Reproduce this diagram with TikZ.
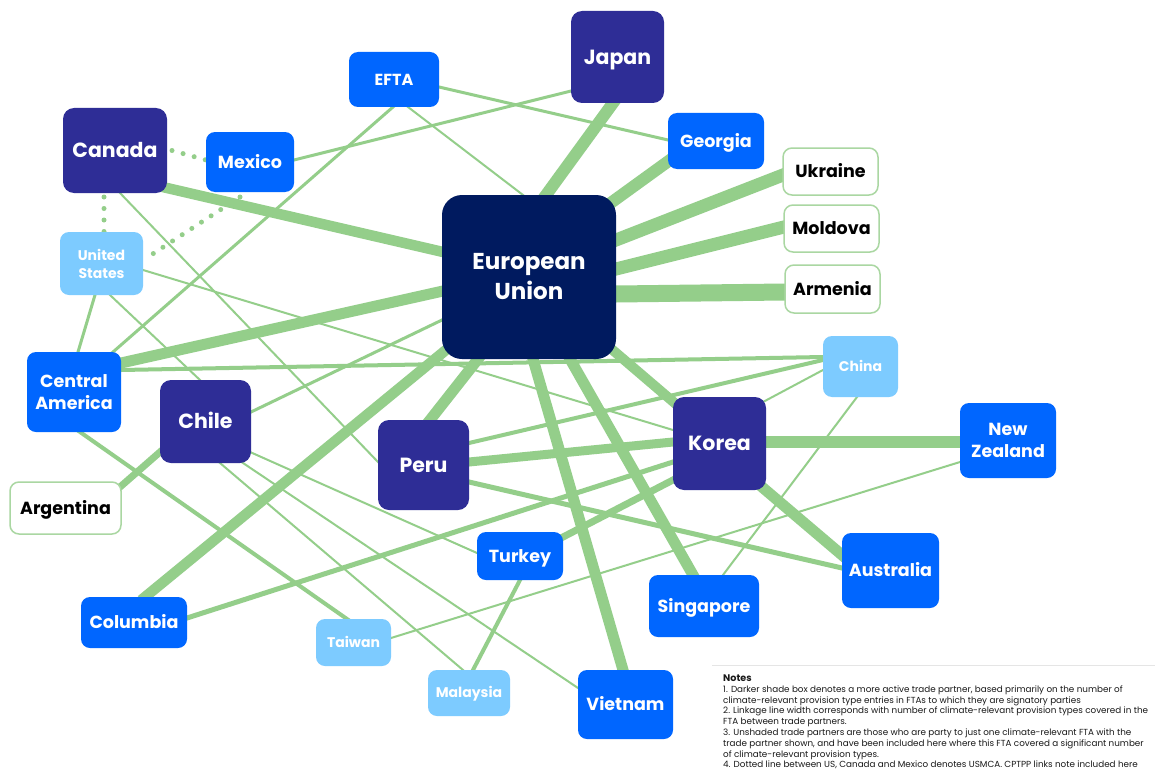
\documentclass[tikz,border=0pt]{standalone}
\usepackage{fontspec}
\setmainfont{Poppins}
\usetikzlibrary{backgrounds}
\definecolor{navy}{RGB}{0,26,95}
\definecolor{purp}{RGB}{46,45,150}
\definecolor{bblue}{RGB}{0,102,255}
\definecolor{lblue}{RGB}{125,203,255}
\definecolor{lk}{RGB}{148,206,138}
\definecolor{lkb}{RGB}{170,215,162}
\newcommand\FzEU{\fontsize{23}{30}\selectfont\bfseries}
\newcommand\FzBig{\fontsize{20.5}{24}\selectfont\bfseries}
\newcommand\FzMid{\fontsize{17.5}{21.5}\selectfont\bfseries}
\newcommand\FzEF{\fontsize{16}{20}\selectfont\bfseries}
\newcommand\FzSm{\fontsize{14}{18}\selectfont\bfseries}
\newcommand\FzNote{\fontsize{8.8}{10.8}\selectfont}
\tikzset{
  cb/.style={rectangle, rounded corners=9pt, inner sep=0pt, align=center, text=white},
  tB/.style={font=\FzBig, text height=14.4pt, text depth=0pt},
  tM/.style={font=\FzMid, text height=12.3pt, text depth=0pt},
  tE/.style={font=\FzEF, text height=11.2pt, text depth=0pt},
  tS/.style={font=\FzSm, text height=9.8pt, text depth=0pt},
  top/.style={cb, fill=navy, rounded corners=20pt},
  dk/.style={cb, fill=purp, rounded corners=11pt},
  md/.style={cb, fill=bblue},
  lt/.style={cb, fill=lblue},
  un/.style={cb, fill=white, draw=lkb, line width=1.5pt, text=black},
  sz/.style 2 args={minimum width=#1pt, minimum height=#2pt},
  lnk/.style={draw=lk, line width=#1pt, shorten >=-5pt, shorten <=-5pt},
  dots/.style={draw=lk, line width=5pt, line cap=round, dash pattern=on 0pt off 11.5pt},
}
\begin{document}
\begin{tikzpicture}[x=1pt,y=-1pt]
\useasboundingbox (0,0) rectangle (1155,773);
% nodes
\node[top, sz={174}{164}, font=\FzEU] (eu) at (529,277) {European\\Union};
\node[dk, tB, sz={93}{92}] (japan) at (617.5,57) {Japan};
\node[dk, tB, sz={104}{85}] (canada) at (115,150.5) {Canada};
\node[dk, tB, sz={91}{83}] (chile) at (205.5,421.5) {Chile};
\node[dk, tB, sz={91}{90}] (peru) at (423.5,465) {Peru};
\node[dk, tB, sz={93}{93}] (korea) at (719.5,443.5) {Korea};
\node[md, tE, sz={90}{55}] (efta) at (394,79.5) {EFTA};
\node[md, tM, sz={88}{60}] (mexico) at (250,162) {Mexico};
\node[md, tM, sz={96}{56}] (georgia) at (716,141) {Georgia};
\node[md, sz={94}{80}, font=\FzMid] (camer) at (74,392) {Central\\America};
\node[md, sz={96}{75}, font=\FzMid] (nz) at (1008,440.5) {New\\Zealand};
\node[md, tM, sz={86}{48}] (turkey) at (520,556) {Turkey};
\node[md, tM, sz={97}{75}] (australia) at (890.5,570.5) {Australia};
\node[md, tM, sz={110}{62}] (singapore) at (704,606) {Singapore};
\node[md, tM, sz={106}{51}] (columbia) at (134,622.5) {Columbia};
\node[md, tM, sz={95}{69}] (vietnam) at (625.5,704.5) {Vietnam};
\node[lt, sz={83}{63}, font=\FzSm] (us) at (101.5,263.5) {United\\States};
\node[lt, tS, sz={75}{61}] (china) at (860.5,366.5) {China};
\node[lt, tS, sz={75}{47}] (taiwan) at (353.5,642.5) {Taiwan};
\node[lt, tS, sz={82}{46}] (malaysia) at (469,693) {Malaysia};
\node[un, tM, sz={95}{47}] (ukraine) at (830.5,171.5) {Ukraine};
\node[un, tM, sz={95}{47}] (moldova) at (831.5,228.5) {Moldova};
\node[un, tM, sz={95}{48}] (armenia) at (832.5,289) {Armenia};
\node[un, tM, sz={111}{52}] (argentina) at (65.5,508) {Argentina};
% notes
\draw[black!10, line width=0.8pt] (712,665.5) -- (1155,665.5);
\node[anchor=north west, align=left, inner sep=0pt, font=\FzNote, text=black!90] (notes) at (723,674.5) {%
{\fontsize{9.6}{10.8}\selectfont\bfseries Notes}\\
1. Darker shade box denotes a more active trade partner, based primarily on the number of\\
climate-relevant provision type entries in FTAs to which they are signatory parties\\
2. Linkage line width corresponds with number of climate-relevant provision types covered in the\\
FTA between trade partners.\\
3. Unshaded trade partners are those who are party to just one climate-relevant FTA with the\\
trade partner shown, and have been included here where this FTA covered a significant number\\
of climate-relevant provision types.\\
4. Dotted line between US, Canada and Mexico denotes USMCA. CPTPP links note included here};
% links
\begin{scope}[on background layer]
\fill[white] (0,0) rectangle (1155,773);
\draw[lnk=12] ([shift={(17,-82)}]eu.center) -- ([shift={(-4.5,46)}]japan.center);
\draw[lnk=12] ([shift={(83,-75)}]eu.center) -- ([shift={(-46,19)}]georgia.center);
\draw[lnk=13] ([shift={(87,-37)}]eu.center) -- ([shift={(-47.5,3.5)}]ukraine.center);
\draw[lnk=13] ([shift={(87,-8)}]eu.center) -- ([shift={(-47.5,-1.5)}]moldova.center);
\draw[lnk=17] ([shift={(87,17)}]eu.center) -- ([shift={(-47.5,3)}]armenia.center);
\draw[lnk=10.5] ([shift={(-86,-25)}]eu.center) -- ([shift={(52,37.5)}]canada.center);
\draw[lnk=11] ([shift={(-86,14)}]eu.center) -- ([shift={(47,-29)}]camer.center);
\draw[lnk=10.5] ([shift={(-77,68)}]eu.center) -- ([shift={(11,-25.5)}]columbia.center);
\draw[lnk=11] ([shift={(-51,82)}]eu.center) -- ([shift={(6.5,-45)}]peru.center);
\draw[lnk=11] ([shift={(4,82)}]eu.center) -- ([shift={(-2.5,-34.5)}]vietnam.center);
\draw[lnk=11] ([shift={(41,82)}]eu.center) -- ([shift={(-11,-31)}]singapore.center);
\draw[lnk=10] ([shift={(86,75)}]eu.center) -- ([shift={(-42.5,-38.5)}]korea.center);
\draw[lnk=3] ([shift={(-87,43)}]eu.center) -- ([shift={(45.5,-9.5)}]chile.center);
\draw[lnk=2] ([shift={(-6,-82)}]eu.center) -- ([shift={(14,27.5)}]efta.center);
\draw[lnk=12] ([shift={(46.5,-1.5)}]korea.center) -- ([shift={(-48,1.5)}]nz.center);
\draw[lnk=11] ([shift={(42.5,43.5)}]korea.center) -- ([shift={(-48.5,-15.5)}]australia.center);
\draw[lnk=9] ([shift={(-46.5,-1.5)}]korea.center) -- ([shift={(45.5,-3)}]peru.center);
\draw[lnk=7] ([shift={(-46.5,36.5)}]korea.center) -- ([shift={(43,-19)}]turkey.center);
\draw[lnk=5] ([shift={(-46.5,18.5)}]korea.center) -- ([shift={(53,-4.5)}]columbia.center);
\draw[lnk=2] ([shift={(43.5,-41.5)}]korea.center) -- ([shift={(-37.5,3.5)}]china.center);
\draw[lnk=2] ([shift={(41.5,6.5)}]us.center) -- ([shift={(-46.5,-13.5)}]korea.center);
\draw[lnk=4] ([shift={(47,-22)}]camer.center) -- ([shift={(-37.5,-9.5)}]china.center);
\draw[lnk=4] ([shift={(45.5,-22)}]peru.center) -- ([shift={(-37.5,-6.5)}]china.center);
\draw[lnk=2] ([shift={(19,-31)}]singapore.center) -- ([shift={(-3.5,30.5)}]china.center);
\draw[lnk=2] ([shift={(37.5,-4.5)}]taiwan.center) -- ([shift={(-48,21.5)}]nz.center);
\draw[lnk=5] ([shift={(45.5,17)}]peru.center) -- ([shift={(-48.5,-2.5)}]australia.center);
\draw[lnk=2] ([shift={(5,42.5)}]canada.center) -- ([shift={(-45.5,-3)}]peru.center);
\draw[lnk=2] ([shift={(8.5,31.5)}]us.center) -- ([shift={(-5.5,-41.5)}]chile.center);
\draw[lnk=3] ([shift={(-6.5,31.5)}]us.center) -- ([shift={(4,-40)}]camer.center);
\draw[lnk=3] ([shift={(-1,27.5)}]efta.center) -- ([shift={(39,-40)}]camer.center);
\draw[lnk=3] ([shift={(45,7.5)}]efta.center) -- ([shift={(-48,-1)}]georgia.center);
\draw[lnk=3] ([shift={(44,-2)}]mexico.center) -- ([shift={(-46.5,34)}]japan.center);
\draw[lnk=4] ([shift={(6,40)}]camer.center) -- ([shift={(-6.5,-23.5)}]taiwan.center);
\draw[lnk=7] ([shift={(54.5,-21)}]argentina.center) -- ([shift={(-45.5,30.5)}]chile.center);
\draw[lnk=2] ([shift={(44.5,30.5)}]chile.center) -- ([shift={(-43,-3)}]turkey.center);
\draw[lnk=2] ([shift={(14.5,41.5)}]chile.center) -- ([shift={(-6,-23)}]malaysia.center);
\draw[lnk=2] ([shift={(37.5,41.5)}]chile.center) -- ([shift={(-47.5,-16.5)}]vietnam.center);
\draw[lnk=4] ([shift={(0,24)}]turkey.center) -- ([shift={(4,-23)}]malaysia.center);
\draw[dots] ([shift={(57,0)}]canada.center) -- ([shift={(-44,-2)}]mexico.center);
\draw[dots] ([shift={(-11,46.5)}]canada.center) -- ([shift={(2.5,-31.5)}]us.center);
\draw[dots] ([shift={(-10,35)}]mexico.center) -- ([shift={(46.5,-6.5)}]us.center);
\end{scope}
\end{tikzpicture}
\end{document}
